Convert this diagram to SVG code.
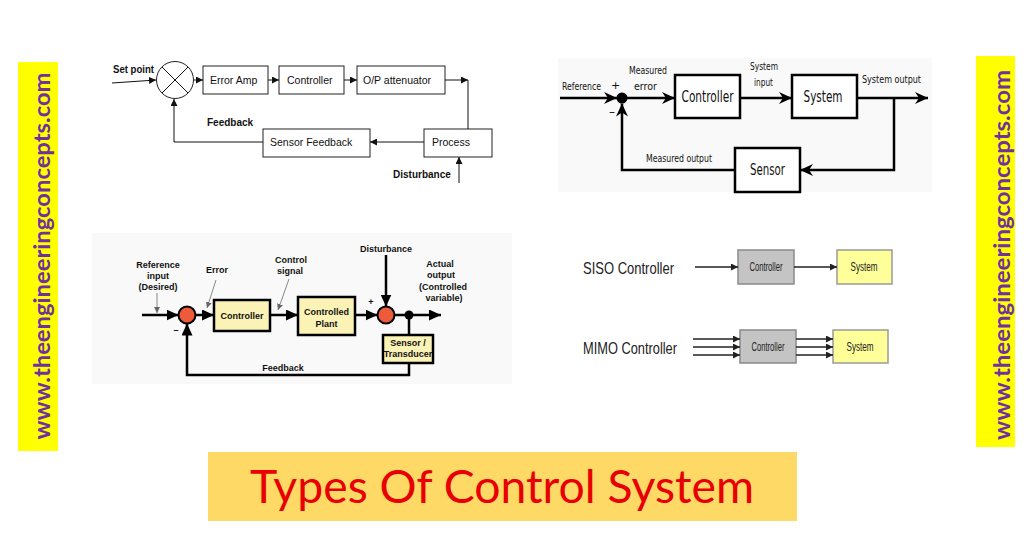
<svg xmlns="http://www.w3.org/2000/svg" width="1024" height="539" viewBox="0 0 1024 539">
<style>
.a11{font-family:"Liberation Sans",Arial,sans-serif;font-size:10.5px;fill:#111}
.a11b{font-family:"Liberation Sans",Arial,sans-serif;font-size:10px;font-weight:bold;fill:#111}
.dj{font-family:"DejaVu Sans",sans-serif;fill:#111}
.ab9{font-family:"Liberation Sans",Arial,sans-serif;font-size:9px;font-weight:bold;fill:#111;text-anchor:middle}
.ar{font-family:"Liberation Sans",Arial,sans-serif;fill:#222}
.url{font-family:Lato,"Open Sans",sans-serif;font-weight:bold;font-size:22px;fill:#7030a0;text-anchor:middle}
.tl{stroke:#111;stroke-width:1;fill:none}
.tbox{fill:#fff;stroke:#222;stroke-width:1}
.tr{stroke:#000;stroke-width:2.5;fill:none}
.trbox{fill:#fff;stroke:#000;stroke-width:2.5}
.bl{stroke:#000;stroke-width:2.5;fill:none}
.blbox{fill:#fbf3b6;stroke:#000;stroke-width:2.5}
.sum{fill:#ee5b3b;stroke:#000;stroke-width:2}
.ptr{stroke:#888;stroke-width:1;fill:none}
.sl{stroke:#222;stroke-width:1.5;fill:none}
.gbox{fill:#c4c4c4;stroke:#8a8a8a;stroke-width:1.5}
.ybox{fill:#ffff99;stroke:#9a9a9a;stroke-width:1.5}
</style>
<defs>
<marker id="mS" markerUnits="userSpaceOnUse" markerWidth="7" markerHeight="7" refX="7" refY="3.5" orient="auto"><path d="M0,0 L7,3.5 L0,7 z" fill="#111"/></marker>
<marker id="mT" markerUnits="userSpaceOnUse" markerWidth="13" markerHeight="12" refX="13" refY="6" orient="auto"><path d="M0,0 L13,6 L0,12 L4,6 z" fill="#000"/></marker>
<marker id="mB" markerUnits="userSpaceOnUse" markerWidth="12" markerHeight="11" refX="12" refY="5.5" orient="auto"><path d="M0,0 L12,5.5 L0,11 z" fill="#000"/></marker>
<marker id="mP" markerUnits="userSpaceOnUse" markerWidth="6" markerHeight="6" refX="6" refY="3" orient="auto"><path d="M0,0 L6,3 L0,6 z" fill="#666"/></marker>
<marker id="mL" markerUnits="userSpaceOnUse" markerWidth="7" markerHeight="7" refX="7" refY="3.5" orient="auto"><path d="M0,0 L7,3.5 L0,7 z" fill="#222"/></marker>
</defs>
<rect width="1024" height="539" fill="#fff"/>
<rect x="558" y="58" width="374" height="134" fill="#f9f9f9"/>
<rect x="92" y="233" width="420" height="151" fill="#f9f9f9"/>

<!-- banners -->
<g id="banner-left"><rect x="18" y="62" width="40" height="389" fill="#ffff00"/><text class="url" transform="translate(50,256) rotate(-90)" textLength="367" lengthAdjust="spacingAndGlyphs">www.theengineeringconcepts.com</text></g>
<g id="banner-right"><rect x="976" y="56" width="39" height="391" fill="#ffff00"/><text class="url" transform="translate(1010,255) rotate(-90)" textLength="370" lengthAdjust="spacingAndGlyphs">www.theengineeringconcepts.com</text></g>
<g id="title"><rect x="208" y="452" width="589" height="69" fill="#ffd966"/><text x="250" y="503" font-family="Lato,'Open Sans',sans-serif" font-size="46" fill="#e80000" textLength="504" lengthAdjust="spacingAndGlyphs">Types Of Control System</text></g>

<!-- top-left diagram -->
<g id="tl-sum"><circle cx="175" cy="80" r="18.5" fill="#fff" stroke="#222" stroke-width="1"/><path d="M162,67 L188,93 M188,67 L162,93" class="tl"/></g>
<g id="tl-erroramp"><rect class="tbox" x="203" y="66" width="65" height="28"/><text class="a11" x="210" y="84">Error Amp</text></g>
<g id="tl-controller"><rect class="tbox" x="279" y="66" width="65" height="28"/><text class="a11" x="287" y="84">Controller</text></g>
<g id="tl-op"><rect class="tbox" x="357" y="66" width="88" height="28"/><text class="a11" x="363" y="84">O/P attenuator</text></g>
<g id="tl-process"><rect class="tbox" x="424" y="129" width="68" height="28"/><text class="a11" x="432" y="146">Process</text></g>
<g id="tl-sensor"><rect class="tbox" x="263" y="129" width="107" height="28"/><text class="a11" x="270" y="146">Sensor Feedback</text></g>
<g id="tl-labels"><text class="a11b" x="113" y="73" textLength="41" lengthAdjust="spacingAndGlyphs">Set point</text><text class="a11b" x="207" y="126">Feedback</text><text class="a11b" x="393" y="178">Disturbance</text></g>
<g id="tl-connectors">
<path class="tl" d="M112,83 L156,80" marker-end="url(#mS)"/>
<path class="tl" d="M194,80 H203" marker-end="url(#mS)"/>
<path class="tl" d="M268,80 H279" marker-end="url(#mS)"/>
<path class="tl" d="M344,80 H357" marker-end="url(#mS)"/>
<path class="tl" d="M445,80 H468" marker-end="url(#mS)"/>
<path class="tl" d="M468,80 V129"/>
<path class="tl" d="M424,142 H370" marker-end="url(#mS)"/>
<path class="tl" d="M263,142 H174 V99" marker-end="url(#mS)"/>
<path class="tl" d="M459,183 V157" marker-end="url(#mS)"/>
</g>

<!-- top-right diagram -->
<g id="tr-sum"><circle cx="622" cy="98" r="5.5" fill="#000"/></g>
<g id="tr-controller"><rect class="trbox" x="675" y="75" width="65" height="43"/><text class="dj" x="707.5" y="102" font-size="15" text-anchor="middle" textLength="52" lengthAdjust="spacingAndGlyphs">Controller</text></g>
<g id="tr-system"><rect class="trbox" x="792" y="75" width="65" height="43"/><text class="dj" x="823" y="102" font-size="15" text-anchor="middle" textLength="39" lengthAdjust="spacingAndGlyphs">System</text></g>
<g id="tr-sensor"><rect class="trbox" x="735" y="148" width="65" height="44"/><text class="dj" x="767.5" y="175" font-size="15" text-anchor="middle" textLength="35" lengthAdjust="spacingAndGlyphs">Sensor</text></g>
<g id="tr-labels" font-size="10">
<text class="dj" x="562" y="90" textLength="39" lengthAdjust="spacingAndGlyphs">Reference</text>
<text class="dj" x="611" y="89" font-size="11">+</text>
<text class="dj" x="609" y="116" font-size="12">–</text>
<text class="dj" x="629" y="74" textLength="38" lengthAdjust="spacingAndGlyphs">Measured</text>
<text class="dj" x="634" y="90" textLength="23" lengthAdjust="spacingAndGlyphs">error</text>
<text class="dj" x="750" y="70" textLength="28" lengthAdjust="spacingAndGlyphs">System</text>
<text class="dj" x="754" y="86" textLength="19" lengthAdjust="spacingAndGlyphs">input</text>
<text class="dj" x="862" y="83" textLength="59" lengthAdjust="spacingAndGlyphs">System output</text>
<text class="dj" x="646" y="162" textLength="66" lengthAdjust="spacingAndGlyphs">Measured output</text>
</g>
<g id="tr-connectors">
<path class="tr" d="M560,98 H617" marker-end="url(#mT)"/>
<path class="tr" d="M622,98 H675" marker-end="url(#mT)"/>
<path class="tr" d="M740,98 H792" marker-end="url(#mT)"/>
<path class="tr" d="M857,98 H928" marker-end="url(#mT)"/>
<path class="tr" d="M894,98 V170 H800" marker-end="url(#mT)"/>
<path class="tr" d="M735,170 H622 V103.5" marker-end="url(#mT)"/>
</g>

<!-- bottom-left diagram -->
<g id="bl-sum1"><circle class="sum" cx="187" cy="315" r="8.5"/></g>
<g id="bl-sum2"><circle class="sum" cx="386" cy="315" r="8.5"/></g>
<g id="bl-controller"><rect class="blbox" x="214" y="300" width="56" height="31"/><text class="ab9" x="242" y="319">Controller</text></g>
<g id="bl-plant"><rect class="blbox" x="298" y="297" width="57" height="38"/><text class="ab9" x="326.5" y="315">Controlled</text><text class="ab9" x="326.5" y="327">Plant</text></g>
<g id="bl-sensor"><rect class="blbox" x="383" y="335" width="50" height="28"/><text class="ab9" x="408" y="346">Sensor /</text><text class="ab9" x="408" y="357">Transducer</text></g>
<g id="bl-labels">
<text class="ab9" x="158" y="268" font-size="8.5">Reference</text>
<text class="ab9" x="158" y="279" font-size="8.5">input</text>
<text class="ab9" x="158" y="290" font-size="8.5">(Desired)</text>
<text class="ab9" x="217" y="273" font-size="8.5">Error</text>
<text class="ab9" x="291" y="263" font-size="8.5">Control</text>
<text class="ab9" x="290" y="274" font-size="8.5">signal</text>
<text class="ab9" x="386" y="252" font-size="8.5">Disturbance</text>
<text class="ab9" x="440" y="267" font-size="8.5">Actual</text>
<text class="ab9" x="441" y="278" font-size="8.5">output</text>
<text class="ab9" x="443" y="290" font-size="8.5">(Controlled</text>
<text class="ab9" x="444" y="301" font-size="8.5">variable)</text>
<text class="ab9" x="283" y="371" font-size="8.5">Feedback</text>
<text class="ab9" x="371" y="305" font-size="11">+</text>
<text class="ab9" x="176" y="333" font-size="12">–</text>
</g>
<g id="bl-connectors">
<path class="bl" d="M142,315 H178.5" marker-end="url(#mB)"/>
<path class="bl" d="M195.5,315 H214" marker-end="url(#mB)"/>
<path class="bl" d="M270,315 H298" marker-end="url(#mB)"/>
<path class="bl" d="M355,315 H377.5" marker-end="url(#mB)"/>
<path class="bl" d="M394.5,315 H441" marker-end="url(#mB)"/>
<path class="bl" d="M409,315 V335"/>
<path class="bl" d="M409,363 V375 H187 V323.5" marker-end="url(#mB)"/>
<path class="bl" d="M386,255 V306.5" marker-end="url(#mB)"/>
<circle cx="409" cy="315" r="4.5" fill="#000"/>
<path class="ptr" d="M157,293 V313" marker-end="url(#mP)"/>
<path class="ptr" d="M216,280 L207,308" marker-end="url(#mP)"/>
<path class="ptr" d="M289,279 L278,310" marker-end="url(#mP)"/>
</g>

<!-- SISO / MIMO -->
<g id="siso-label"><text class="ar" x="583" y="274" font-size="17" textLength="91" lengthAdjust="spacingAndGlyphs">SISO Controller</text></g>
<g id="siso-controller"><rect class="gbox" x="738" y="250" width="56" height="34"/><text class="ar" x="766" y="271" font-size="12" text-anchor="middle" textLength="33" lengthAdjust="spacingAndGlyphs">Controller</text></g>
<g id="siso-system"><rect class="ybox" x="837" y="250" width="55" height="34"/><text class="ar" x="864" y="271" font-size="12" text-anchor="middle" textLength="27" lengthAdjust="spacingAndGlyphs">System</text></g>
<g id="mimo-label"><text class="ar" x="583" y="354" font-size="17" textLength="94" lengthAdjust="spacingAndGlyphs">MIMO Controller</text></g>
<g id="mimo-controller"><rect class="gbox" x="740" y="330" width="56" height="33"/><text class="ar" x="768" y="351" font-size="12" text-anchor="middle" textLength="33" lengthAdjust="spacingAndGlyphs">Controller</text></g>
<g id="mimo-system"><rect class="ybox" x="833" y="330" width="55" height="33"/><text class="ar" x="860" y="351" font-size="12" text-anchor="middle" textLength="27" lengthAdjust="spacingAndGlyphs">System</text></g>
<g id="sm-connectors">
<path class="sl" d="M695,267 H738" marker-end="url(#mL)"/>
<path class="sl" d="M794,267 H837" marker-end="url(#mL)"/>
<path class="sl" d="M693,339 H740" marker-end="url(#mL)"/>
<path class="sl" d="M693,347 H740" marker-end="url(#mL)"/>
<path class="sl" d="M693,355 H740" marker-end="url(#mL)"/>
<path class="sl" d="M796,339 H833" marker-end="url(#mL)"/>
<path class="sl" d="M796,347 H833" marker-end="url(#mL)"/>
<path class="sl" d="M796,355 H833" marker-end="url(#mL)"/>
</g>
</svg>
